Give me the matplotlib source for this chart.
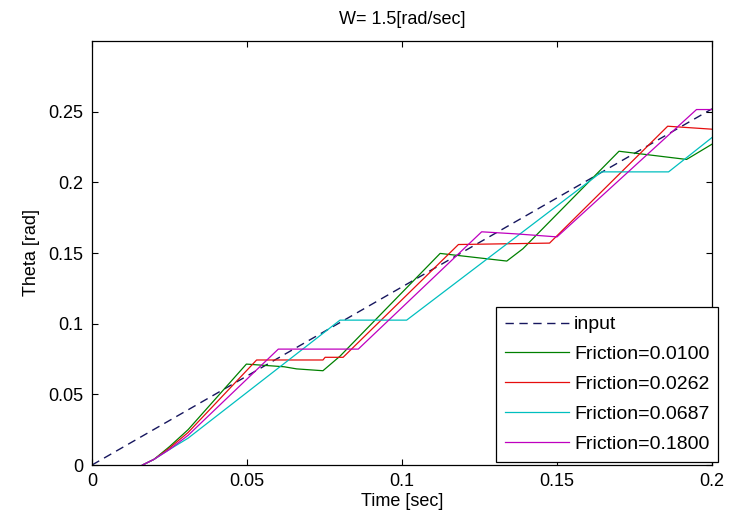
import numpy as np
import matplotlib.pyplot as plt

plt.rcParams['font.family'] = ['Liberation Sans', 'DejaVu Sans']

# input (dashed reference)
t_input = [0.0, 0.2]
theta_input = [0.0, 0.252]

# friction responses
t_f1 = [0.0163, 0.020, 0.025, 0.031, 0.0498, 0.062, 0.066, 0.0745, 0.080, 0.1123,
        0.1338, 0.139, 0.170, 0.1918, 0.200]
th_f1 = [0.0, 0.004, 0.013, 0.025, 0.0714, 0.0695, 0.068, 0.0667, 0.077, 0.1497,
         0.1443, 0.153, 0.222, 0.2162, 0.227]

t_f2 = [0.0163, 0.020, 0.025, 0.031, 0.0531, 0.0745, 0.0752, 0.081, 0.1182,
        0.1476, 0.1857, 0.200]
th_f2 = [0.0, 0.004, 0.012, 0.023, 0.0743, 0.0743, 0.0762, 0.0762, 0.156,
         0.157, 0.2397, 0.2376]

t_f3 = [0.0163, 0.020, 0.025, 0.031, 0.080, 0.1015, 0.1644, 0.186, 0.200]
th_f3 = [0.0, 0.004, 0.011, 0.019, 0.1025, 0.1025, 0.2074, 0.2074, 0.2317]

t_f4 = [0.0163, 0.020, 0.025, 0.031, 0.0601, 0.0859, 0.1257, 0.137, 0.150,
        0.195, 0.200]
th_f4 = [0.0, 0.004, 0.011, 0.021, 0.082, 0.082, 0.165, 0.1635, 0.1614,
         0.2515, 0.2515]

labels = ['input', 'Friction=0.0100', 'Friction=0.0262',
          'Friction=0.0687', 'Friction=0.1800']

fig = plt.figure(figsize=(7.51, 5.29), dpi=100)
ax = fig.add_axes([92 / 751, 64 / 529, 620 / 751, 424 / 529])

ax.plot(t_input, theta_input, color='#16165e', lw=1.0, dashes=(6, 4), label=labels[0])
ax.plot(t_f1, th_f1, color=(0, 0.5, 0), lw=0.9, label=labels[1])
ax.plot(t_f2, th_f2, color=(0.9, 0.05, 0.05), lw=0.9, label=labels[2])
ax.plot(t_f3, th_f3, color=(0, 0.75, 0.75), lw=0.9, label=labels[3])
ax.plot(t_f4, th_f4, color=(0.75, 0, 0.75), lw=0.9, label=labels[4])

ax.set_xlim(0, 0.2)
ax.set_ylim(0, 0.3)
ax.set_xticks([0, 0.05, 0.1, 0.15, 0.2])
ax.set_xticklabels(['0', '0.05', '0.1', '0.15', '0.2'])
ax.set_yticks([0, 0.05, 0.1, 0.15, 0.2, 0.25])
ax.set_yticklabels(['0', '0.05', '0.1', '0.15', '0.2', '0.25'])
ax.tick_params(direction='in', top=True, right=True, length=4.5, width=0.8,
               labelsize=13, pad=6)
for s in ax.spines.values():
    s.set_linewidth(0.9)

ax.set_title('W= 1.5[rad/sec]', fontsize=13, pad=12)
ax.set_xlabel('Time [sec]', fontsize=13, labelpad=2)
ax.set_ylabel('Theta [rad]', fontsize=13, labelpad=6)

leg = ax.legend(loc='lower right', bbox_to_anchor=(1.0097, 0.008), borderaxespad=0,
                fontsize=14, fancybox=False, framealpha=1, edgecolor='black',
                handlelength=3.3, handletextpad=0.25, labelspacing=0.63,
                borderpad=0.45)
leg.get_frame().set_linewidth(0.9)

fig.savefig('out.png', dpi=100)
